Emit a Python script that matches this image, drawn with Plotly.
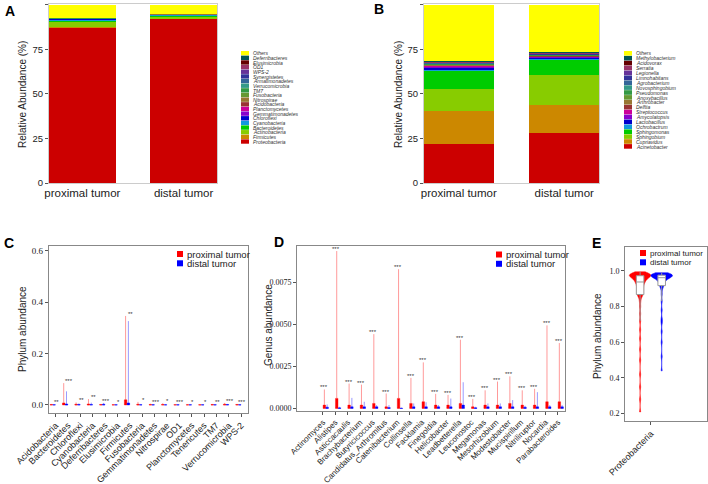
import plotly.graph_objects as go

W, H = 708, 484

# ---------------- data ----------------
groups = ["proximal tumor", "distal tumor"]

# Panel A (phylum composition, bottom -> top)
a_phyla = ["Proteobacteria", "Firmicutes", "Actinobacteria", "Bacteroidetes", "Cyanobacteria",
           "Chloroflexi", "Gemmatimonadetes", "Planctomycetes", "Acidobacteria", "Nitrospirae",
           "Fusobacteria", "TM7", "Verrucomicrobia", "Armatimonadetes", "Synergistetes",
           "WPS-2", "OD1", "Elusimicrobia", "Deferribacteres", "Others"]
a_prox = [87.4, 0.3, 2.8, 0.9, 0.6, 0.2, 0.1, 0.1, 0.1, 0.1,
          0.03, 0.03, 0.03, 0.03, 0.03, 0.03, 0.03, 0.03, 0.03, 7.23]
a_dist = [92.3, 0.3, 0.6, 1.1, 0.3, 0.1, 0.05, 0.05, 0.05, 0.05,
          0.02, 0.02, 0.02, 0.02, 0.02, 0.02, 0.02, 0.02, 0.02, 4.97]

# Panel B (genus composition, bottom -> top)
b_genera = ["Acinetobacter", "Cupriavidus", "Sphingobium", "Sphingomonas", "Ochrobactrum",
            "Lactobacillus", "Amycolatopsis", "Streptococcus", "Delftia", "Arthrobacter",
            "Anoxybacillus", "Pseudomonas", "Novosphingobium", "Agrobacterium", "Limnohabitans",
            "Legionella", "Serratia", "Acidovorax", "Methylobacterium", "Others"]
b_prox = [21.8, 18.7, 12.3, 10.2, 1.0, 0.8, 0.5, 0.6, 0.3, 0.3,
          0.2, 0.3, 0.2, 0.2, 0.2, 0.3, 0.2, 0.2, 0.2, 31.5]
b_dist = [28.0, 15.8, 16.7, 9.0, 0.5, 0.7, 0.3, 0.2, 0.2, 0.2,
          0.2, 0.2, 0.2, 0.2, 0.2, 0.3, 0.2, 0.2, 0.2, 26.5]

palette = ["#CC0000", "#CC8800", "#88CC00", "#00CC00", "#1199DD",
           "#0000CC", "#8800CC", "#CC0099", "#993333", "#997733",
           "#669933", "#339944", "#339988", "#336699", "#333399",
           "#663399", "#993366", "#660000", "#005555", "#FFFF00"]

# Panel C (phylum abundance per sample: spread summary)
c_phyla = ["Acidobacteria", "Bacteroidetes", "Chloroflexi", "Cyanobacteria", "Deferribacteres",
           "Elusimicrobia", "Firmicutes", "Fusobacteria", "Gemmatimonadetes", "Nitrospirae",
           "OD1", "Planctomycetes", "Tenericutes", "TM7", "Verrucomicrobia", "WPS-2"]
c_prox_max = [0.004, 0.085, 0.010, 0.023, 0.004, 0.002, 0.346, 0.012, 0.005, 0.007,
              0.003, 0.003, 0.003, 0.004, 0.008, 0.004]
c_dist_max = [0.003, 0.053, 0.006, 0.009, 0.008, 0.002, 0.326, 0.004, 0.004, 0.003,
              0.002, 0.002, 0.002, 0.003, 0.004, 0.003]
c_prox_q3 = [0.002, 0.008, 0.003, 0.004, 0.002, 0.001, 0.020, 0.003, 0.002, 0.002,
             0.001, 0.001, 0.001, 0.002, 0.003, 0.002]
c_dist_q3 = [0.001, 0.004, 0.002, 0.002, 0.003, 0.001, 0.008, 0.001, 0.001, 0.001,
             0.001, 0.001, 0.001, 0.001, 0.002, 0.001]
c_sig = ["**", "***", "**", "**", "***", "*", "**", "*", "***", "*",
         "***", "*", "*", "**", "***", "***"]

# Panel D (genus abundance)
d_genera = ["Actinomyces", "Alistipes", "Asticcacaulis", "Brachybacterium", "Butyricicoccus",
            "Candidatus_Arthromitus", "Catenibacterium", "Collinsella", "Facklamia", "Finegoldia",
            "Helicobacter", "Leadbetterella", "Leuconostoc", "Megamonas", "Mesorhizobium",
            "Modestobacter", "Mucispirillum", "Nitriliruptor", "Nocardia", "Parabacteroides"]
d_prox_max = [0.00113, 0.00936, 0.00148, 0.00142, 0.00442, 0.00089, 0.00828, 0.00182, 0.00274, 0.00087,
              0.00081, 0.00409, 0.00057, 0.00108, 0.00160, 0.00191, 0.00108, 0.00117, 0.00494, 0.00389]
d_dist_max = [0.00024, 0.00010, 0.00063, 0.00040, 0.00020, 0.00020, 0.00005, 0.00030, 0.00037, 0.00020,
              0.00059, 0.00156, 0.00010, 0.00030, 0.00030, 0.00050, 0.00016, 0.00097, 0.00020, 0.00020]
d_prox_q3 = [0.0002, 0.0006, 0.0002, 0.0002, 0.0003, 0.0001, 0.0006, 0.0003, 0.0004, 0.0002,
             0.0002, 0.0003, 0.0001, 0.0002, 0.0002, 0.0003, 0.0002, 0.0002, 0.0004, 0.0004]
d_dist_q3 = [0.00008, 0.00004, 0.0001, 0.0001, 0.0001, 0.00006, 0.00002, 0.0001, 0.0001, 0.0001,
             0.0001, 0.0002, 0.00005, 0.0001, 0.0001, 0.0001, 0.00008, 0.0001, 0.0001, 0.0001]
d_sig = ["***", "***", "***", "***", "***", "***", "***", "***", "***", "***",
         "***", "***", "***", "***", "***", "***", "***", "***", "***", "***"]

# Panel E (Proteobacteria abundance per sample)
e_category = "Proteobacteria"
e_prox = [0.21, 0.28, 0.35, 0.42, 0.50, 0.56, 0.62, 0.67, 0.72, 0.76, 0.80, 0.83,
          0.85, 0.86, 0.865, 0.87, 0.875, 0.88, 0.885, 0.89, 0.895, 0.90, 0.905, 0.91,
          0.915, 0.92, 0.925, 0.93, 0.933, 0.936, 0.94, 0.943, 0.946, 0.949, 0.952, 0.955,
          0.957, 0.96, 0.962, 0.964, 0.966, 0.968, 0.97, 0.971, 0.972, 0.974, 0.975, 0.976,
          0.977, 0.978, 0.979, 0.98, 0.981, 0.982, 0.983, 0.985, 0.987, 0.989, 0.992, 0.995]
e_dist = [0.44, 0.52, 0.60, 0.66, 0.71, 0.73, 0.78, 0.83, 0.87, 0.90, 0.91, 0.92,
          0.925, 0.93, 0.935, 0.94, 0.945, 0.95, 0.953, 0.956, 0.958, 0.96, 0.962, 0.964,
          0.966, 0.968, 0.969, 0.97, 0.971, 0.972, 0.973, 0.974, 0.975, 0.976, 0.977, 0.978,
          0.979, 0.98, 0.981, 0.982, 0.983, 0.984, 0.985, 0.987, 0.99]

RED, BLUE = "#FF0000", "#0000FF"
SANS = "Liberation Sans, Arial, sans-serif"
SERIF = "Liberation Serif, Times New Roman, serif"


def fx(p):
    return p / W


def fy(p):
    return 1 - p / H


fig = go.Figure()
shapes, annos = [], []

# ---------------- A & B: stacked bars ----------------
for names, prox, dist, ax in [(a_phyla, a_prox, a_dist, ""), (b_genera, b_prox, b_dist, "2")]:
    for i, n in enumerate(names):
        fig.add_trace(go.Bar(x=groups, y=[prox[i], dist[i]], name=n, width=0.66,
                             marker=dict(color=palette[i], line=dict(width=0)),
                             xaxis="x" + ax, yaxis="y" + ax, showlegend=False))

# ---------------- C & D: distribution summaries ----------------
for cats, pmax, dmax, pq3, dq3, ax in [
        (c_phyla, c_prox_max, c_dist_max, c_prox_q3, c_dist_q3, "3"),
        (d_genera, d_prox_max, d_dist_max, d_prox_q3, d_dist_q3, "4")]:
    zeros = [0] * len(cats)
    for name, mx, q3, col, lcol in [(groups[0], pmax, pq3, RED, "rgba(255,0,0,0.4)"),
                                    (groups[1], dmax, dq3, BLUE, "rgba(0,0,255,0.4)")]:
        fig.add_trace(go.Box(x=cats, q1=zeros, median=zeros, q3=q3, lowerfence=zeros,
                             upperfence=mx, name=name, fillcolor=col,
                             line=dict(color=lcol, width=1), whiskerwidth=0,
                             boxpoints=False, xaxis="x" + ax, yaxis="y" + ax, showlegend=False))

for cats, pmax, dmax, sig, ax in [(c_phyla, c_prox_max, c_dist_max, c_sig, "3"),
                                  (d_genera, d_prox_max, d_dist_max, d_sig, "4")]:
    for c, p, d, s in zip(cats, pmax, dmax, sig):
        annos.append(dict(x=c, y=max(p, d), xref="x" + ax, yref="y" + ax, text=s,
                          showarrow=False, yanchor="bottom", yshift=-3, xshift=1,
                          font=dict(size=6, color="#333333", family=SANS)))

# ---------------- E: violins ----------------
for name, vals, col in [(groups[0], e_prox, RED), (groups[1], e_dist, BLUE)]:
    fig.add_trace(go.Violin(x0=e_category, y=vals, name=name, fillcolor=col,
                            line=dict(color=col, width=0.5), spanmode="hard", bandwidth=0.012,
                            points=False, opacity=1,
                            box=dict(visible=True, width=0.35, fillcolor="white",
                                     line=dict(color="#999999", width=1)),
                            meanline=dict(visible=False),
                            xaxis="x5", yaxis="y5", showlegend=False))

# ---------------- axes ----------------
def cat_axis(dom, rng, size, angle=0, line="#cccccc", ticks=""):
    return dict(domain=[fx(dom[0]), fx(dom[1])], range=rng, type="category",
                showline=True, mirror=True, linecolor=line, linewidth=1, automargin=False,
                ticks=ticks, ticklen=3, tickcolor="#555555", tickangle=angle,
                tickfont=dict(family=SANS, size=size, color="#222222"),
                showgrid=False, zeroline=False)


def val_axis(dom, rng, tv, fmt, fam, size, line):
    return dict(domain=[fy(dom[1]), fy(dom[0])], range=rng, tickvals=tv, tickformat=fmt,
                showline=True, mirror=True, linecolor=line, linewidth=1, automargin=False,
                ticks="outside", ticklen=3, tickcolor="#555555",
                tickfont=dict(family=fam, size=size, color="#222222"),
                showgrid=False, zeroline=False)


xa = cat_axis((49, 217), [-0.33, 1.33], 11.5)
xa["ticklabelstandoff"] = -1
xb = cat_axis((424, 599), [-0.33, 1.33], 11.5)
xb["ticklabelstandoff"] = -1
ya = val_axis((4, 183), [0, 100.5], [0, 25, 50, 75, 100], "d", SANS, 9.5, "#cccccc")
yb = val_axis((4, 183), [0, 100.5], [0, 25, 50, 75, 100], "d", SANS, 9.5, "#cccccc")

xc = cat_axis((48.7, 248), [-0.55, 15.55], 9, -45, "#888888", "outside")
yc = val_axis((245.7, 412.7), [-0.03, 0.619], [0, 0.2, 0.4, 0.6], ".1f", SERIF, 9, "#888888")
xd = cat_axis((297, 565), [-2.1, 19.57], 8, -45, "#888888", "outside")
yd = val_axis((246, 410.5), [-0.00012, 0.00966], [0, 0.0025, 0.005, 0.0075], ".4f", SERIF, 8, "#888888")
xe = cat_axis((625, 707), [-0.6, 1.3], 9, -45, "#888888", "outside")
ye = val_axis((247, 421), [0.159, 1.134], [0.2, 0.4, 0.6, 0.8, 1.0], ".1f", SERIF, 8, "#888888")

for ax_x, ax_y, k in [(xa, ya, ""), (xb, yb, "2"), (xc, yc, "3"), (xd, yd, "4"), (xe, ye, "5")]:
    ax_x["anchor"] = "y" + k
    ax_y["anchor"] = "x" + k

xc["categoryarray"] = c_phyla
xd["categoryarray"] = d_genera

# ---------------- composition legends ----------------
def comp_legend(names, colors, x_sw, y_top, step):
    for i, (n, c) in enumerate(zip(names[::-1], colors[::-1])):
        yt = y_top + i * step
        shapes.append(dict(type="rect", xref="paper", yref="paper",
                           x0=fx(x_sw), x1=fx(x_sw + 8), y0=fy(yt + step - 0.3), y1=fy(yt),
                           fillcolor=c, line=dict(width=0)))
        annos.append(dict(xref="paper", yref="paper", x=fx(x_sw + 11), y=fy(yt + step / 2),
                          text="<i>" + n + "</i>", showarrow=False, xanchor="left",
                          yanchor="middle", borderpad=0,
                          font=dict(family=SANS, size=5, color="#333333")))


comp_legend(a_phyla, palette, 241, 51, 4.65)
comp_legend(b_genera, palette, 624, 51, 4.9)

# ---------------- group legends ----------------
def group_legend(x_sw, y_top, size):
    for i, (n, c) in enumerate(zip(groups, [RED, BLUE])):
        yt = y_top + i * 9.3
        shapes.append(dict(type="rect", xref="paper", yref="paper",
                           x0=fx(x_sw), x1=fx(x_sw + 6), y0=fy(yt + 6), y1=fy(yt),
                           fillcolor=c, line=dict(width=0)))
        annos.append(dict(xref="paper", yref="paper", x=fx(x_sw + 9), y=fy(yt + 3),
                          text=n, showarrow=False, xanchor="left", yanchor="middle",
                          borderpad=0,
                          font=dict(family=SANS, size=size, color="#222222")))


group_legend(177, 251, 9.5)
group_legend(496, 251.5, 9.5)
group_legend(640, 250, 8)

# ---------------- titles & panel letters ----------------
for txt, x, y in [("Relative Abundance (%)", 22, 95), ("Relative Abundance (%)", 398, 95),
                  ("Phylum abundance", 22, 329), ("Genus abundance", 268, 325),
                  ("Phylum abundance", 597, 336)]:
    annos.append(dict(xref="paper", yref="paper", x=fx(x), y=fy(y), text=txt, textangle=-90,
                      showarrow=False, xanchor="center", yanchor="middle",
                      font=dict(family=SANS, size=10, color="#222222")))

for txt, x, y in [("A", 10, 11), ("B", 379, 9), ("C", 9, 243), ("D", 279, 242), ("E", 596, 243)]:
    annos.append(dict(xref="paper", yref="paper", x=fx(x), y=fy(y), text="<b>" + txt + "</b>",
                      showarrow=False, xanchor="center", yanchor="middle",
                      font=dict(family=SANS, size=14, color="#000000")))

fig.update_layout(
    width=W, height=H, margin=dict(l=0, r=0, t=0, b=0),
    paper_bgcolor="white", plot_bgcolor="white",
    barmode="stack", boxmode="group", boxgap=0.1, boxgroupgap=0.1,
    violinmode="group", violingap=0, violingroupgap=0,
    xaxis=xa, yaxis=ya, xaxis2=xb, yaxis2=yb, xaxis3=xc, yaxis3=yc,
    xaxis4=xd, yaxis4=yd, xaxis5=xe, yaxis5=ye,
    shapes=shapes, annotations=annos, showlegend=False,
)

fig.write_html("out.html", config={"displayModeBar": False},
               post_script="document.body.style.margin='0';document.body.style.overflow='hidden';")
